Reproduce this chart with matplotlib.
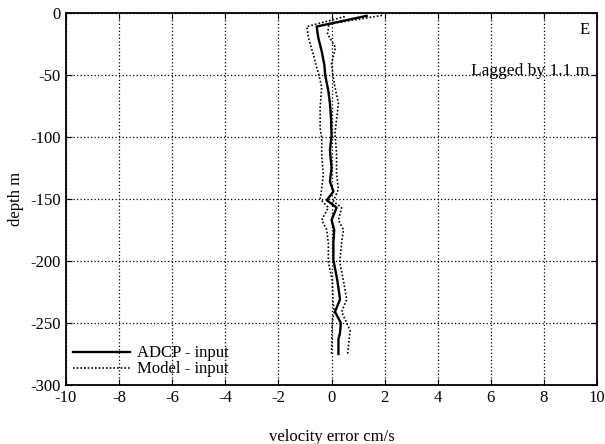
import numpy as np
from matplotlib import pyplot as plt

plt.rcParams['font.family'] = ['Liberation Serif', 'DejaVu Serif']
plt.rcParams['axes.unicode_minus'] = False

# ADCP - input (solid)
adcp_depth = [-2.4, -11, -20, -31, -42, -50, -63, -73, -85, -99, -111, -125, -136,
              -144, -151, -157, -167, -175, -185, -199, -216, -231, -241, -250,
              -258, -263, -275]
adcp_err = [1.32, -0.56, -0.50, -0.37, -0.27, -0.24, -0.12, -0.06, -0.02, 0.0, -0.06,
            0.0, -0.06, 0.07, -0.18, 0.19, 0.0, 0.1, 0.07, 0.07, 0.22, 0.32, 0.13,
            0.35, 0.32, 0.26, 0.26]

# Model - input (dotted, two curves)
lo_depth = [-3, -11, -20, -34, -44, -48, -60, -77, -93, -101, -114, -130, -142, -150,
            -157, -167, -175, -186, -201, -216, -231, -241, -250, -275]
lo_err = [0.5, -0.93, -0.87, -0.68, -0.56, -0.5, -0.37, -0.43, -0.43, -0.37, -0.37,
          -0.31, -0.37, -0.43, -0.12, -0.37, -0.18, -0.12, -0.12, 0.03, 0.05, 0.1,
          0.02, 0.0]

hi_depth = [-2, -9, -17, -28, -41, -50, -60, -73, -86, -97, -114, -130, -142, -152,
            -157, -167, -175, -185, -201, -216, -231, -241, -256, -276]
hi_err = [1.9, -0.1, -0.15, 0.15, 0.0, 0.05, 0.13, 0.26, 0.19, 0.13, 0.19, 0.19,
          0.26, 0.07, 0.38, 0.26, 0.45, 0.38, 0.31, 0.45, 0.57, 0.38, 0.7, 0.6]

xticks = np.arange(-10, 11, 2)
yticks = np.arange(-300, 1, 50)

fig = plt.figure(figsize=(6.05, 4.44), dpi=100)
ax = fig.add_axes([0.109, 0.133, 0.878, 0.838])

dots = (0, (1, 1.2))
ax.plot(adcp_err, adcp_depth, color='black', lw=1.7, label='ADCP - input')
ax.plot(lo_err, lo_depth, color='black', lw=1.2, linestyle=dots, label='Model - input')
ax.plot(hi_err, hi_depth, color='black', lw=1.2, linestyle=dots)

ax.set_xlim(-10, 10)
ax.set_ylim(-300, 0)
ax.set_xticks(xticks)
ax.set_yticks(yticks)
ax.grid(True, color='black', linestyle=(0, (1, 1.8)), lw=0.9)
ax.tick_params(direction='in', length=4, top=True, right=True, labelsize=12)
for s in ax.spines.values():
    s.set_linewidth(1.3)

ax.set_xlabel('velocity error cm/s', fontsize=12, labelpad=17)
ax.set_ylabel('depth m', fontsize=12, labelpad=5)

ax.text(0.985, 0.975, 'E', transform=ax.transAxes, ha='right', va='top', fontsize=12)
ax.text(0.985, 0.845, 'Lagged by 1.1 m', transform=ax.transAxes, ha='right',
        va='center', fontsize=12.5)

ax.legend(loc='lower left', frameon=False, fontsize=12, handlelength=3.4,
          handletextpad=0.4, borderaxespad=0.05, labelspacing=0.0)

fig.savefig('out.png', dpi=100)
